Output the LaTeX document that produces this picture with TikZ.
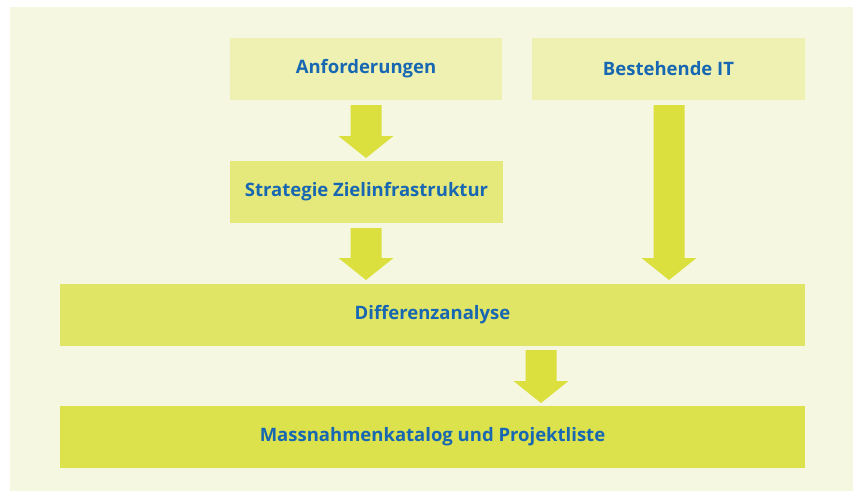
\documentclass[tikz,border=0pt]{standalone}
\usepackage{fontspec}
\setmainfont{Open Sans}
\definecolor{panel}{HTML}{F5F7E1}
\definecolor{boxA}{HTML}{EEF1B1}
\definecolor{boxB}{HTML}{E5E97C}
\definecolor{boxC}{HTML}{E0E566}
\definecolor{boxD}{HTML}{DCE24B}
\definecolor{arr}{HTML}{DCE03F}
\definecolor{txt}{HTML}{1767B2}
\begin{document}
\begin{tikzpicture}[x=1pt,y=-1pt,
  boxstyle/.style={inner sep=0pt, outer sep=0pt, font=\bfseries\fontsize{18.5}{22}\selectfont, text=txt, anchor=north west},
  fatarrow/.style={fill=arr, draw=none}]
\useasboundingbox (0,0) rectangle (853,491);
\fill[white] (0,0) rectangle (853,491);
\fill[panel] (10,7) rectangle (853,491);
% boxes
\node[boxstyle, fill=boxA, minimum width=272pt, minimum height=62pt] (anf) at (230,38) {Anforderungen};
\node[boxstyle, fill=boxA, minimum width=273pt, minimum height=62pt] (best) at (532,38) {Bestehende IT};
\node[boxstyle, fill=boxB, minimum width=273pt, minimum height=62pt] (strat) at (230,161) {Strategie Zielinfrastruktur};
\node[boxstyle, fill=boxC, minimum width=745pt, minimum height=62pt] (diff) at (60,284) {Differenzanalyse};
\node[boxstyle, fill=boxD, minimum width=745pt, minimum height=62pt] (mass) at (60,406) {Massnahmenkatalog und Projektliste};
% block arrows: centre x, top, head base, tip
\newcommand{\blockarrow}[4]{%
  \fill[fatarrow] (#1-15.5,#2) -- (#1+15.5,#2) -- (#1+15.5,#3) -- (#1+27.5,#3) -- (#1,#4) -- (#1-27.5,#3) -- (#1-15.5,#3) -- cycle;}
\blockarrow{366}{105}{136}{158}
\blockarrow{366}{228}{258}{280}
\blockarrow{669}{105}{258}{280}
\blockarrow{541}{350}{381}{403}
\end{tikzpicture}
\end{document}
